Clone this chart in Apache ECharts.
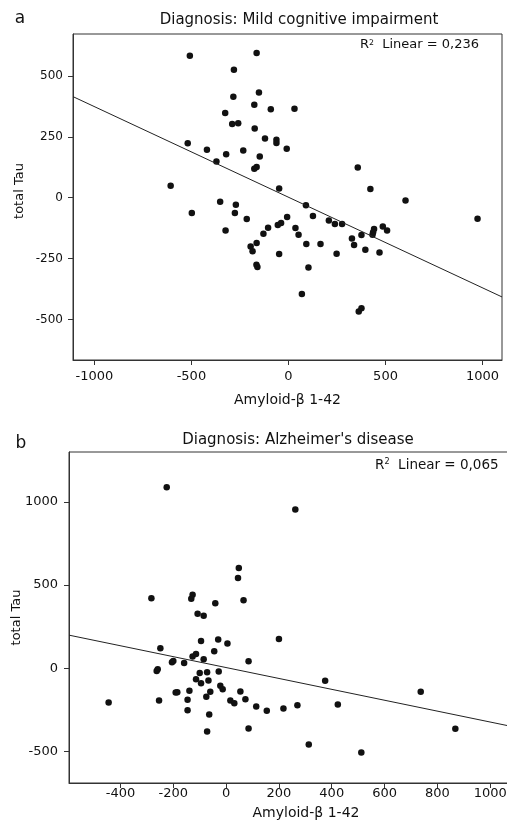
<!DOCTYPE html>
<html>
<head>
    <meta charset="utf-8">
    <title>total Tau vs Amyloid-β 1-42</title>
    <script src="https://cdn.jsdelivr.net/npm/echarts/dist/echarts.min.js"></script>
    <style>
        body { margin: 0; background: #fff; }
        #main { width: 507px; height: 834px; }
    </style>
</head>
<body>
<div id="main"></div>
<script type="text/javascript">

	// a: Mild cognitive impairment
	var mciAmyloid = [-508, -164, -281, -152, -284, -176, -91, 31, -326, -290, -259, -174, -121, -62, -62, -9,
		-519, -420, -233, -321, -148, -371, -176, -164, 357, -607, -48, 422, 603, -352, -271, -498, -276, 90,
		-215, -7, 126, 208, 239, 276, 974, -324, -105, -55, -38, 36, 52, -129, 441, 436, 433, 486, 508, 327,
		376, 338, 396, 469, -195, -185, -164, 92, 165, 248, -48, -165, -160, 103, 69, 362, 376];
	var mciTau = [583, 594, 525, 432, 414, 382, 363, 365, 348, 303, 306, 284, 243, 238, 225, 201,
		224, 197, 194, 178, 169, 149, 119, 126, 124, 49, 38, 36, -11, -16, -29, -63, -63, -31,
		-87, -79, -75, -93, -108, -108, -86, -134, -123, -112, -104, -124, -152, -148, -128, -142, -152, -118, -134, -167,
		-153, -194, -213, -225, -200, -220, -186, -190, -190, -230, -231, -275, -284, -286, -395, -467, -454];
	var mciFit = { intercept: 2, slope: -0.372 };
	var mciXTicks = [-1000, -500, 0, 500, 1000];
	var mciYTicks = [-500, -250, 0, 250, 500];

	// b: Alzheimer's disease
	var adAmyloid = [-225, 262, 48, 45, -283, -127, -132, -41, 66, -108, -85, 200, -249, -95, -30, 5, -45,
		-114, -127, -85, 85, -205, -200, -159, -263, -259, -100, -72, -28, -114, -95, -67, -22, -13, 375, 54,
		737, -191, -185, -139, -60, -254, -146, -75, -445, 16, 31, 73, 114, 154, 217, 270, 423, -146, -64,
		85, -72, 868, 313, 512];
	var adTau = [1088, 954, 603, 542, 420, 442, 418, 390, 408, 328, 316, 176, 120, 164, 172, 148, 102,
		86, 70, 54, 42, 36, 44, 32, -16, -6, -28, -24, -20, -66, -90, -74, -106, -126, -76, -140,
		-142, -146, -144, -136, -142, -194, -190, -172, -206, -194, -210, -186, -230, -256, -242, -222, -218, -252, -278,
		-362, -380, -364, -458, -506];
	var adFit = { intercept: 4, slope: -0.3275 };
	var adXTicks = [-400, -200, 0, 200, 400, 600, 800, 1000];
	var adYTicks = [-500, 0, 500, 1000];

	var fontName = 'DejaVu Sans';
	var axisColor = '#333';

	function zip(xs, ys) {
		var out = [];
		for (var i = 0; i < xs.length; i++) out.push([xs[i], ys[i]]);
		return out;
	}
	function fitLine(fit, x0, x1) {
		return [[x0, fit.intercept + fit.slope * x0], [x1, fit.intercept + fit.slope * x1]];
	}
	function plain(v) { return String(v); }

	function xAxisOf(idx, min, max, ticks, margin, gap) {
		return {
			type: 'value', gridIndex: idx, min: min, max: max,
			name: 'Amyloid-β 1-42', nameLocation: 'middle', nameGap: gap, nameMoveOverlap: false,
			nameTextStyle: { fontFamily: fontName, fontSize: 14, color: '#111' },
			axisLine: { show: true, onZero: false, lineStyle: { color: axisColor, width: 1 } },
			axisTick: { show: true, length: 5, inside: false, customValues: ticks, lineStyle: { color: axisColor } },
			axisLabel: { customValues: ticks, formatter: plain, margin: margin, fontFamily: fontName, fontSize: 13, color: '#111' },
			splitLine: { show: false }
		};
	}
	function yAxisOf(idx, min, max, ticks, size, margin, gap, pad) {
		return {
			type: 'value', gridIndex: idx, min: min, max: max,
			name: 'total Tau', nameLocation: 'middle', nameGap: gap, nameMoveOverlap: false,
			nameTextStyle: { fontFamily: fontName, fontSize: 13, color: '#111', padding: pad },
			axisLine: { show: true, onZero: false, lineStyle: { color: axisColor, width: 1 } },
			axisTick: { show: true, length: 5, inside: false, customValues: ticks, lineStyle: { color: axisColor } },
			axisLabel: { customValues: ticks, formatter: plain, margin: margin, fontFamily: fontName, fontSize: size, color: '#111' },
			splitLine: { show: false }
		};
	}
	function rsq(x, y, text, size) {
		return {
			type: 'text', x: x, y: y,
			style: {
				text: '{r|R}{s|2}{r|  Linear = ' + text + '}',
				rich: {
					r: { fontFamily: fontName, fontSize: size, fill: '#111' },
					s: { fontFamily: fontName, fontSize: size * 0.6, fill: '#111', verticalAlign: 'top', padding: [0, 0, 5, 0] }
				},
				textVerticalAlign: 'middle'
			}
		};
	}
	function label(x, y, text, size) {
		return {
			type: 'text', x: x, y: y,
			style: { text: text, fontFamily: fontName, fontSize: size, fill: '#111', textAlign: 'center', textVerticalAlign: 'middle' }
		};
	}

	var myChart = echarts.init(document.getElementById('main'));
	var option = {
		backgroundColor: '#fff',
		animation: false,
		graphic: [
			label(20, 19, 'a', 17),
			label(299, 20.5, 'Diagnosis: Mild cognitive impairment', 15),
			rsq(360, 45, '0,236', 13),
			label(21, 444, 'b', 17),
			label(298, 440, 'Diagnosis: Alzheimer\'s disease', 15),
			rsq(375, 465, '0,065', 13.5)
		],
		grid: [
			{ left: 73, top: 34, width: 429, height: 326, outerBoundsMode: 'none', containLabel: false,
				show: true, borderColor: axisColor, borderWidth: 1, backgroundColor: 'transparent' },
			{ left: 69, top: 452, width: 474, height: 331, outerBoundsMode: 'none', containLabel: false,
				show: true, borderColor: axisColor, borderWidth: 1, backgroundColor: 'transparent' }
		],
		xAxis: [
			xAxisOf(0, -1110, 1100, mciXTicks, 10, 33),
			xAxisOf(1, -595, 1200, adXTicks, 4, 23)
		],
		yAxis: [
			yAxisOf(0, -666, 672, mciYTicks, 12, 10, 47, [0, 0, 0, 12]),
			yAxisOf(1, -690, 1300, adYTicks, 13, 11, 46, 0)
		],
		series: [
			{
				type: 'scatter', xAxisIndex: 0, yAxisIndex: 0,
				symbolSize: 6.5, itemStyle: { color: '#111', opacity: 1 },
				data: zip(mciAmyloid, mciTau)
			},
			{
				type: 'line', xAxisIndex: 0, yAxisIndex: 0, showSymbol: false, symbol: 'none',
				lineStyle: { color: '#222', width: 1 },
				data: fitLine(mciFit, -1110, 1100)
			},
			{
				type: 'scatter', xAxisIndex: 1, yAxisIndex: 1,
				symbolSize: 6.5, itemStyle: { color: '#111', opacity: 1 },
				data: zip(adAmyloid, adTau)
			},
			{
				type: 'line', xAxisIndex: 1, yAxisIndex: 1, showSymbol: false, symbol: 'none',
				lineStyle: { color: '#222', width: 1 },
				data: fitLine(adFit, -595, 1200)
			}
		]
	};
	myChart.setOption(option);
	window.addEventListener('resize', myChart.resize);

</script>
</body>
</html>
